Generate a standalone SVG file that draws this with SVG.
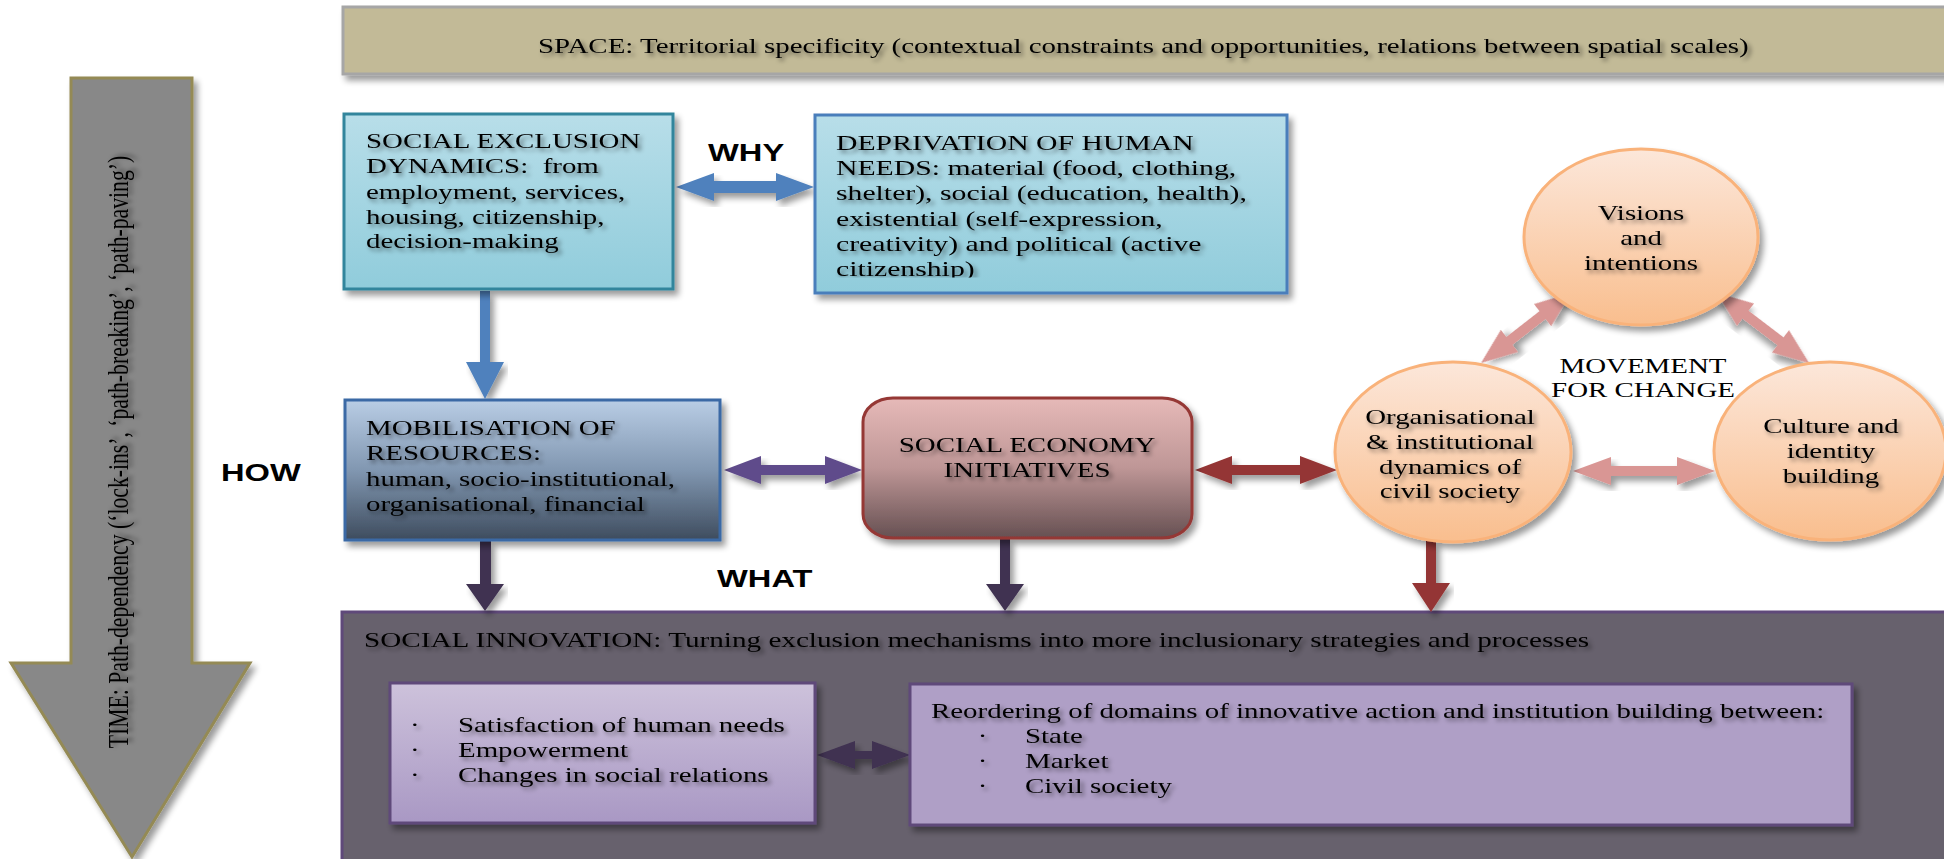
<svg xmlns="http://www.w3.org/2000/svg" width="1944" height="859" viewBox="0 0 1944 859">
<style>
.t{font-family:"Liberation Serif","Times New Roman",serif;font-size:21.7px;fill:#000}
.lbl{font-family:"Liberation Sans",Arial,sans-serif;font-weight:bold;font-size:24.5px;fill:#000}
.sh{filter:url(#ts)}
.box{filter:url(#ds)}
</style>
<defs>
<filter id="ts" x="-10%" y="-40%" width="120%" height="200%">
<feGaussianBlur in="SourceAlpha" stdDeviation="2"/>
<feOffset dx="2" dy="3" result="o"/>
<feComponentTransfer><feFuncA type="linear" slope="0.5"/></feComponentTransfer>
<feMerge><feMergeNode/><feMergeNode in="SourceGraphic"/></feMerge>
</filter>
<filter id="ds" x="-10%" y="-10%" width="120%" height="130%">
<feGaussianBlur in="SourceAlpha" stdDeviation="3"/>
<feOffset dx="4" dy="5"/>
<feComponentTransfer><feFuncA type="linear" slope="0.4"/></feComponentTransfer>
<feMerge><feMergeNode/><feMergeNode in="SourceGraphic"/></feMerge>
</filter>
<linearGradient id="gBlue" x1="0" y1="0" x2="0" y2="1"><stop offset="0" stop-color="#B8DEE9"/><stop offset="1" stop-color="#90CCDB"/></linearGradient>
<linearGradient id="gMob" x1="0" y1="0" x2="0" y2="1"><stop offset="0" stop-color="#B9CDE5"/><stop offset="0.5" stop-color="#8197B1"/><stop offset="1" stop-color="#3E4C5E"/></linearGradient>
<linearGradient id="gSei" x1="0" y1="0" x2="0" y2="1"><stop offset="0" stop-color="#E6B9B8"/><stop offset="0.5" stop-color="#BE9696"/><stop offset="1" stop-color="#665052"/></linearGradient>
<linearGradient id="gOr" x1="0" y1="0" x2="0" y2="1"><stop offset="0" stop-color="#FCE7DA"/><stop offset="1" stop-color="#F9BE8E"/></linearGradient>
<linearGradient id="gIn1" x1="0" y1="0" x2="0" y2="1"><stop offset="0" stop-color="#CDC2DB"/><stop offset="1" stop-color="#A998C4"/></linearGradient>
<clipPath id="clipDep"><rect x="815" y="115" width="472" height="162.5"/></clipPath>
</defs>

<g id="space">
<rect class="box" x="343" y="7" width="1620" height="67" fill="#C2BA97" stroke="#A6A6A6" stroke-width="3"/>
<text class="t sh" transform="translate(538,53) scale(1.333,1)">SPACE: Territorial specificity (contextual constraints and opportunities, relations between spatial scales)</text>
</g>

<g id="time">
<polygon class="box" points="71,78 192,78 192,663 250,663 132,857 11,663 71,663" fill="#888888" stroke="#948A54" stroke-width="3"/>
<text class="t sh" text-anchor="middle" fill="#1a1a1a" transform="translate(128,452) rotate(-90) scale(1,1.333)">TIME: Path-dependency (‘lock-ins’, ‘path-breaking’, ‘path-paving’)</text>
</g>

<g id="social-innovation">
<rect x="342" y="612" width="1620" height="260" fill="#67616D" stroke="#5F497A" stroke-width="3"/>
<text class="t sh" transform="translate(364,647) scale(1.345,1)">SOCIAL INNOVATION: Turning exclusion mechanisms into more inclusionary strategies and processes</text>
</g>

<g id="connectors">
<polygon points="676,187 714,173 714,181 776,181 776,173 814,187 776,201 776,193 714,193 714,201" fill="#4F81BD" class="box"/>
<polygon points="480,291 490,291 490,362 504,362 485,399 466,362 480,362" fill="#4F81BD" class="box"/>
<polygon points="724,470 761,456 761,465 825,465 825,456 862,470 825,484 825,475 761,475 761,484" fill="#5F4B8B" class="box"/>
<polygon points="1195,470 1232,456 1232,465 1300,465 1300,456 1337,470 1300,484 1300,475 1232,475 1232,484" fill="#943634" class="box"/>
<polygon points="480,541 491,541 491,584 504,584 485,611 466,584 480,584" fill="#3F3151" class="box"/>
<polygon points="1000,539 1010,539 1010,584 1024,584 1005,611 986,584 1000,584" fill="#3F3151" class="box"/>
<polygon points="1426,541 1436,541 1436,583 1450,583 1431,612 1412,583 1426,583" fill="#943634" class="box"/>
<polygon points="817,755 855,741 855,751 872,751 872,741 910,755 872,769 872,759 855,759 855,769" fill="#3F3151" class="box"/>
<polygon points="1573,471 1611,457 1611,466 1677,466 1677,457 1715,471 1677,485 1677,476 1611,476 1611,485" fill="#D99694" class="box"/>
<polygon transform="translate(1526,328) rotate(-37.9)" points="-57,0 -21,-14 -21,-5 21,-5 21,-14 57,0 21,14 21,5 -21,5 -21,14" fill="#D99694" class="box"/>
<polygon transform="translate(1763,328) rotate(37.3)" points="-58,0 -22,-14 -22,-5 22,-5 22,-14 58,0 22,14 22,5 -22,5 -22,14" fill="#D99694" class="box"/>
<text class="lbl" transform="translate(708,161) scale(1.333,1)">WHY</text>
<text class="lbl" transform="translate(221,481) scale(1.333,1)">HOW</text>
<text class="lbl" transform="translate(717,587) scale(1.333,1)">WHAT</text>
</g>

<g id="social-exclusion">
<rect class="box" x="344" y="114" width="329" height="175" fill="url(#gBlue)" stroke="#31859C" stroke-width="3"/>
<text class="t sh" transform="translate(366,148) scale(1.333,1)"><tspan x="0" y="0">SOCIAL EXCLUSION</tspan><tspan x="0" y="25.5">DYNAMICS:&#160; from</tspan><tspan x="0" y="51">employment, services,</tspan><tspan x="0" y="76.5">housing, citizenship,</tspan><tspan x="0" y="100.5">decision-making</tspan></text>
</g>

<g id="deprivation">
<rect class="box" x="815" y="115" width="472" height="178" fill="url(#gBlue)" stroke="#4A7EBB" stroke-width="3"/>
<g clip-path="url(#clipDep)">
<text class="t sh" transform="translate(836,150) scale(1.37,1)"><tspan x="0" y="0">DEPRIVATION OF HUMAN</tspan><tspan x="0" y="25.2">NEEDS: material (food, clothing,</tspan><tspan x="0" y="50.4">shelter), social (education, health),</tspan><tspan x="0" y="75.6">existential (self-expression,</tspan><tspan x="0" y="100.8">creativity) and political (active</tspan><tspan x="0" y="126.5">citizenship)</tspan></text>
</g>
</g>

<g id="mobilisation">
<rect class="box" x="345" y="400" width="375" height="140" fill="url(#gMob)" stroke="#3A69A5" stroke-width="3"/>
<text class="t sh" transform="translate(366,435) scale(1.333,1)"><tspan x="0" y="0">MOBILISATION OF</tspan><tspan x="0" y="25">RESOURCES:</tspan><tspan x="0" y="51">human, socio-institutional,</tspan><tspan x="0" y="76">organisational, financial</tspan></text>
</g>

<g id="social-economy">
<rect class="box" x="863" y="398" width="329" height="140" rx="30" ry="24" fill="url(#gSei)" stroke="#953735" stroke-width="3"/>
<text class="t sh" text-anchor="middle" transform="translate(1027,452) scale(1.333,1)"><tspan x="0" y="0">SOCIAL ECONOMY</tspan><tspan x="0" y="25">INITIATIVES</tspan></text>
</g>

<g id="visions">
<ellipse class="box" cx="1641" cy="237" rx="117" ry="88" fill="url(#gOr)" stroke="#F9B27A" stroke-width="3"/>
<text class="t sh" text-anchor="middle" transform="translate(1641,220) scale(1.333,1)"><tspan x="0" y="0">Visions</tspan><tspan x="0" y="25">and</tspan><tspan x="0" y="50">intentions</tspan></text>
</g>

<g id="organisational">
<ellipse class="box" cx="1453" cy="452" rx="118" ry="90" fill="url(#gOr)" stroke="#F9B27A" stroke-width="3"/>
<text class="t sh" text-anchor="middle" transform="translate(1450,424) scale(1.333,1)"><tspan x="0" y="0">Organisational</tspan><tspan x="0" y="25">&amp; institutional</tspan><tspan x="0" y="50">dynamics of</tspan><tspan x="0" y="74">civil society</tspan></text>
</g>

<g id="culture">
<ellipse class="box" cx="1830" cy="451" rx="116" ry="89" fill="url(#gOr)" stroke="#F9B27A" stroke-width="3"/>
<text class="t sh" text-anchor="middle" transform="translate(1831,433) scale(1.333,1)"><tspan x="0" y="0">Culture and</tspan><tspan x="0" y="25">identity</tspan><tspan x="0" y="50">building</tspan></text>
</g>

<g id="movement">
<text class="t" text-anchor="middle" transform="translate(1643,373) scale(1.333,1)"><tspan x="0" y="0">MOVEMENT</tspan><tspan x="0" y="24">FOR CHANGE</tspan></text>
</g>

<g id="outcomes">
<rect class="box" x="390" y="683" width="425" height="140" fill="url(#gIn1)" stroke="#5F497A" stroke-width="3"/>
<text class="t sh" transform="translate(410,732) scale(1.333,1)"><tspan x="0" y="0">·</tspan><tspan x="36" y="0">Satisfaction of human needs</tspan><tspan x="0" y="25">·</tspan><tspan x="36" y="25">Empowerment</tspan><tspan x="0" y="50">·</tspan><tspan x="36" y="50">Changes in social relations</tspan></text>
</g>

<g id="reordering">
<rect class="box" x="910" y="684" width="942" height="141" fill="#AF9FC6" stroke="#5F497A" stroke-width="3"/>
<text class="t sh" transform="translate(931,718) scale(1.333,1)"><tspan x="0" y="0">Reordering of domains of innovative action and institution building between:</tspan><tspan x="35" y="25">·</tspan><tspan x="70.5" y="25">State</tspan><tspan x="35" y="50">·</tspan><tspan x="70.5" y="50">Market</tspan><tspan x="35" y="75">·</tspan><tspan x="70.5" y="75">Civil society</tspan></text>
</g>
</svg>
